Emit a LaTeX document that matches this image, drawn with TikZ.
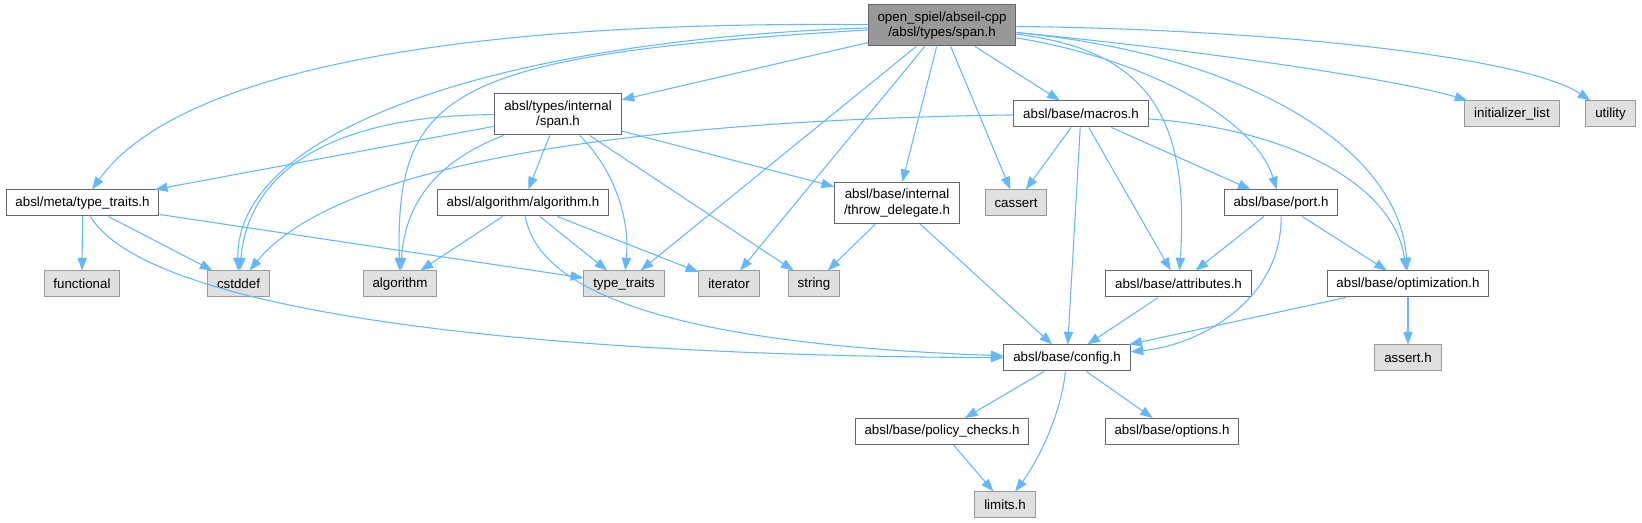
\documentclass[tikz,border=0pt]{standalone}
\usepackage{fontspec}
\setmainfont{Liberation Sans}
\usetikzlibrary{arrows.meta}
\definecolor{edgeblue}{HTML}{63B8FF}
\definecolor{boxline}{HTML}{666666}
\definecolor{sysline}{HTML}{999999}
\definecolor{sysfill}{HTML}{E0E0E0}
\definecolor{rootfill}{HTML}{999999}
\tikzset{
  hdr/.style={draw=boxline,fill=white,line width=0.75pt,inner xsep=7pt,inner ysep=2pt,
    minimum height=19.5pt,font=\fontsize{10}{11.5}\selectfont,align=center},
  syshdr/.style={hdr,draw=sysline,fill=sysfill},
  roothdr/.style={hdr,fill=rootfill,minimum height=30.75pt},
  twoline/.style={minimum height=30.75pt},
  dep/.style={edgeblue,line width=0.8pt,-{Triangle[length=9.5pt,width=7pt]}}
}
\begin{document}
\begin{tikzpicture}[x=0.75pt,y=-0.75pt]
  \useasboundingbox (0,0) rectangle (1642,523);
  % nodes
  \node[roothdr] (root) at (942,25.5) {open\_spiel/abseil-cpp\\/absl/types/span.h};
  \node[hdr,twoline] (ispan) at (558,114.5) {absl/types/internal\\/span.h};
  \node[hdr] (macros) at (1081,114) {absl/base/macros.h};
  \node[syshdr] (initlist) at (1512,114) {initializer\_list};
  \node[syshdr] (utility) at (1610.5,114) {utility};
  \node[hdr] (meta) at (82.5,203) {absl/meta/type\_traits.h};
  \node[hdr] (algoh) at (523,203) {absl/algorithm/algorithm.h};
  \node[hdr,twoline] (throwdel) at (897,203) {absl/base/internal\\/throw\_delegate.h};
  \node[syshdr] (cassert) at (1016,203) {cassert};
  \node[hdr] (port) at (1281,203) {absl/base/port.h};
  \node[syshdr] (functional) at (82,284) {functional};
  \node[syshdr] (cstddef) at (238.5,284) {cstddef};
  \node[syshdr] (algorithm) at (400,284) {algorithm};
  \node[syshdr] (typetraits) at (624,284) {type\_traits};
  \node[syshdr] (iterator) at (729,284) {iterator};
  \node[syshdr] (string) at (814,284) {string};
  \node[hdr] (attributes) at (1178.5,284) {absl/base/attributes.h};
  \node[hdr] (optim) at (1408,284) {absl/base/optimization.h};
  \node[hdr] (config) at (1067,358) {absl/base/config.h};
  \node[syshdr] (asserth) at (1408,358) {assert.h};
  \node[hdr] (policy) at (942,431.5) {absl/base/policy\_checks.h};
  \node[hdr] (options) at (1172,431.5) {absl/base/options.h};
  \node[syshdr] (limits) at (1005,505) {limits.h};
  % edges from span.h
  \draw[dep] (root) -- (ispan);
  \draw[dep] (root) -- (macros);
  \draw[dep] (root) .. controls (1200,50) and (1400,80) .. (initlist);
  \draw[dep] (root) .. controls (1300,30) and (1530,60) .. (utility);
  \draw[dep] (root) .. controls (420,20) and (170,80) .. (meta);
  \draw[dep] (root) .. controls (500,40) and (235,130) .. (cstddef);
  \draw[dep] (root) .. controls (450,55) and (395,90) .. (algorithm);
  \draw[dep] (root) -- (typetraits);
  \draw[dep] (root) -- (iterator);
  \draw[dep] (root) -- (throwdel);
  \draw[dep] (root) -- (cassert);
  \draw[dep] (root) .. controls (1150,60) and (1255,120) .. (port);
  \draw[dep] (root) .. controls (1150,50) and (1190,120) .. (attributes);
  \draw[dep] (root) .. controls (1250,55) and (1400,150) .. (optim);
  % internal/span.h
  \draw[dep] (ispan) -- (meta);
  \draw[dep] (ispan) .. controls (350,115) and (250,160) .. (cstddef);
  \draw[dep] (ispan) .. controls (440,160) and (405,200) .. (algorithm);
  \draw[dep] (ispan) -- (algoh);
  \draw[dep] (ispan) .. controls (615,170) and (630,220) .. (typetraits);
  \draw[dep] (ispan) -- (string);
  \draw[dep] (ispan) -- (throwdel);
  % type_traits.h
  \draw[dep] (meta) -- (functional);
  \draw[dep] (meta) -- (cstddef);
  \draw[dep] (meta) -- (typetraits);
  \draw[dep] (meta) .. controls (140,300) and (450,355) .. (config);
  % algorithm.h
  \draw[dep] (algoh) -- (algorithm);
  \draw[dep] (algoh) -- (typetraits);
  \draw[dep] (algoh) -- (iterator);
  \draw[dep] (algoh) .. controls (540,300) and (700,345) .. (config);
  % throw_delegate.h
  \draw[dep] (throwdel) -- (string);
  \draw[dep] (throwdel) -- (config);
  % macros.h
  \draw[dep] (macros) .. controls (650,120) and (340,160) .. (cstddef);
  \draw[dep] (macros) -- (cassert);
  \draw[dep] (macros) -- (config);
  \draw[dep] (macros) -- (attributes);
  \draw[dep] (macros) -- (port);
  \draw[dep] (macros) .. controls (1300,130) and (1395,190) .. (optim);
  % port.h
  \draw[dep] (port) -- (attributes);
  \draw[dep] (port) -- (optim);
  \draw[dep] (port) .. controls (1282,300) and (1200,345) .. (config);
  % lower part
  \draw[dep] (attributes) -- (config);
  \draw[dep] (optim) -- (config);
  \draw[dep] (optim) -- (asserth);
  \draw[dep] (config) -- (policy);
  \draw[dep] (config) -- (options);
  \draw[dep] (config) .. controls (1060,420) and (1035,465) .. (limits);
  \draw[dep] (policy) -- (limits);
\end{tikzpicture}
\end{document}
